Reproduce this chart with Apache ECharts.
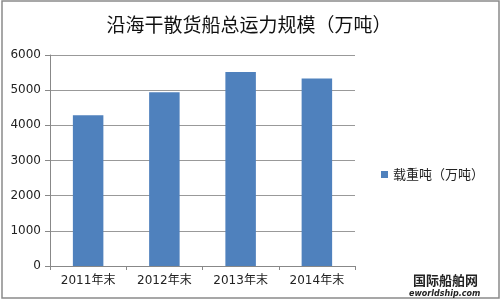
<!DOCTYPE html>
<html><head><meta charset="utf-8">
<script src="https://cdn.jsdelivr.net/npm/echarts@6/dist/echarts.min.js"></script>
<style>html,body{margin:0;padding:0;background:#fff}#c{width:503px;height:303px}</style>
</head><body><div id="c"></div>
<script>
const categories = ['2011年末','2012年末','2013年末','2014年末'];
const values = [4290, 4940, 5520, 5330];
const seriesName = '载重吨（万吨）';
const titleText = '沿海干散货船总运力规模（万吨）';

const chart = echarts.init(document.getElementById('c'));
chart.setOption({
  animation: false,
  backgroundColor: '#fff',
  title: { text: titleText, left: 244, textAlign: 'center', top: 10,
    textStyle: { fontFamily: 'Noto Sans CJK SC', fontSize: 19, fontWeight: 'normal', color: '#111' } },
  legend: { data: [{ name: seriesName, icon: 'rect' }], left: 376, top: 163, orient: 'vertical',
    itemWidth: 7, itemHeight: 7, itemGap: 4,
    textStyle: { fontFamily: 'Noto Sans CJK SC', fontSize: 13, color: '#222' } },
  grid: { left: 50, right: 148, top: 55, bottom: 37 },
  xAxis: { type: 'category', data: categories,
    axisLine: { lineStyle: { color: '#888' } },
    axisTick: { show: true, length: 4, lineStyle: { color: '#888' } },
    axisLabel: { fontFamily: 'DejaVu Sans, Noto Sans CJK SC', fontSize: 12, color: '#222', margin: 9 } },
  yAxis: { type: 'value', min: 0, max: 6000, interval: 1000,
    axisLine: { show: true, lineStyle: { color: '#888' } },
    axisTick: { show: true, length: 5, lineStyle: { color: '#888' } },
    splitLine: { lineStyle: { color: '#999' } },
    axisLabel: { fontFamily: 'DejaVu Sans', fontSize: 12, color: '#222', margin: 9,
      formatter: function (v) { return String(v); } } },
  series: [{ name: seriesName, type: 'bar', data: values, barWidth: '40%',
    itemStyle: { color: '#4F81BD' } }],
  graphic: [
    { type: 'rect', shape: { x: 2, y: 1, width: 497, height: 297 },
      style: { fill: 'none', stroke: '#8a8a8a', lineWidth: 1.5 }, silent: true },
    { type: 'text', left: 413, top: 274, style: { text: '国际船舶网', font: 'bold 13px "Noto Sans CJK SC"', fill: '#222' } },
    { type: 'text', left: 409, top: 290, style: { text: 'eworldship.com', font: 'italic bold 8px "DejaVu Sans"', fill: '#222' } }
  ]
});
</script></body></html>
